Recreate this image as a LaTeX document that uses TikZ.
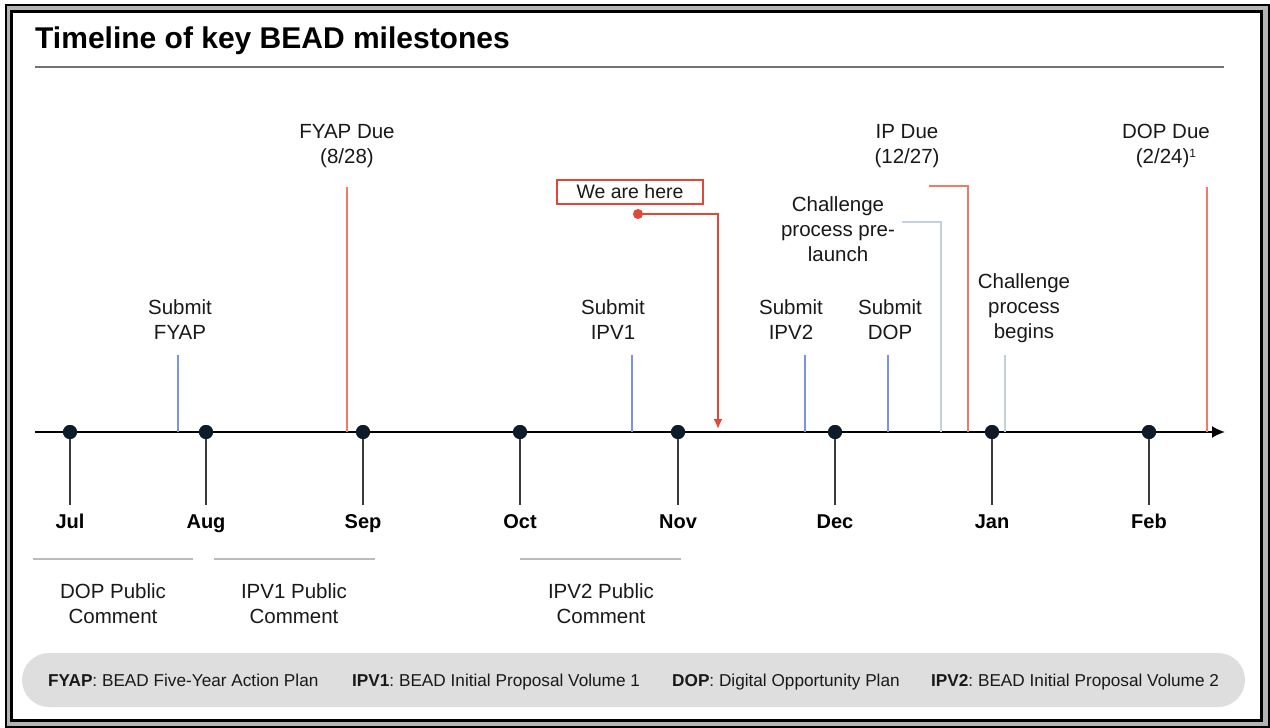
\documentclass[tikz,border=0pt]{standalone}
\usepackage{fontspec}
\setmainfont{Liberation Sans}
\usetikzlibrary{arrows.meta}
\frenchspacing
\definecolor{dueRed}{HTML}{F07A6A}
\definecolor{hereRed}{HTML}{E0483A}
\definecolor{subBlue}{HTML}{7B93E6}
\definecolor{chalGray}{HTML}{C5CFDD}
\definecolor{dotNavy}{HTML}{0E1B29}
\definecolor{tickGray}{HTML}{3A3A3A}
\definecolor{rangeGray}{HTML}{BBBBBB}
\definecolor{legendGray}{HTML}{DEDEDE}
\definecolor{frameGray}{HTML}{B4B4B4}
\tikzset{
  mylbl/.style={align=center, font=\fontsize{20.5}{25}\selectfont, inner sep=0pt, text=black!90},
  mymonth/.style={font=\fontsize{20}{24}\selectfont\bfseries, inner sep=0pt, text=black, anchor=base},
  mydot/.style={circle, fill=dotNavy, minimum size=14pt, inner sep=0pt},
  mytick/.style={draw=tickGray, line width=2.2pt},
  mysub/.style={draw=subBlue, line width=2pt},
  mydue/.style={draw=dueRed, line width=2pt},
  mychal/.style={draw=chalGray, line width=2pt},
  pcline/.style={draw=rangeGray, line width=2pt},
  myleg/.style={font=\fontsize{17.2}{20}\selectfont\frenchspacing, inner sep=0pt, anchor=base west, text=black!90},
}
\begin{document}
\begin{tikzpicture}[x=1pt, y=-1pt]
\useasboundingbox (0,0) rectangle (1270,728);
% frame
\fill[white] (0,0) rectangle (1270,728);
\fill[frameGray] (6,5.3) rectangle (1269,726.5);
\fill[white] (11.5,11.5) rectangle (1261.5,720.5);
\draw[black, line width=2pt] (6,5.3) rectangle (1269,726.5);
\draw[black, line width=2.4pt] (11.5,11.5) rectangle (1261.5,720.5);
% title
\node[anchor=base west, inner sep=0pt, font=\fontsize{30}{36}\selectfont\bfseries] (title) at (35,48) {Timeline of key BEAD milestones};
\coordinate (ruleL) at (35,67);
\coordinate (ruleR) at (1224,67);
\draw[draw=black!55, line width=2pt] (ruleL) -- (ruleR);
% axis
\coordinate (axL) at (35,432);
\coordinate (axR) at (1225,432);
\draw[line width=2pt, -{Latex[length=13pt,width=12pt]}] (axL) -- (axR);
% milestone lines (drawn before dots)
\coordinate (fyapS) at (178,355); \coordinate (fyapB) at (178,432);
\draw[mysub] (fyapS) -- (fyapB);
\node[mylbl] (fyapL) at (180,320) {Submit\\FYAP};
\coordinate (fyapDT) at (347,187); \coordinate (fyapDB) at (347,432);
\draw[mydue] (fyapDT) -- (fyapDB);
\node[mylbl] (fyapDL) at (347,146) {FYAP Due\\(8/28)};
\coordinate (ipv1T) at (632,355); \coordinate (ipv1B) at (632,432);
\draw[mysub] (ipv1T) -- (ipv1B);
\node[mylbl] (ipv1L) at (613,320) {Submit\\IPV1};
\coordinate (ipv2T) at (805,355); \coordinate (ipv2B) at (805,432);
\draw[mysub] (ipv2T) -- (ipv2B);
\node[mylbl] (ipv2L) at (791,320) {Submit\\IPV2};
\coordinate (dopT) at (888,355); \coordinate (dopB) at (888,432);
\draw[mysub] (dopT) -- (dopB);
\node[mylbl] (dopL) at (890,320) {Submit\\DOP};
\coordinate (preS) at (902,222); \coordinate (preC) at (941,222); \coordinate (preB) at (941,432);
\draw[mychal] (preS) -- (preC) -- (preB);
\node[mylbl] (preL) at (838,229) {Challenge\\process pre-\\launch};
\coordinate (ipS) at (929,186); \coordinate (ipC) at (968,186); \coordinate (ipB) at (968,432);
\draw[mydue] (ipS) -- (ipC) -- (ipB);
\node[mylbl] (ipL) at (907,146) {IP Due\\(12/27)};
\coordinate (begT) at (1005,355); \coordinate (begB) at (1005,432);
\draw[mychal] (begT) -- (begB);
\node[mylbl] (begL) at (1024,308) {Challenge\\process\\begins};
\coordinate (dopDT) at (1207,187); \coordinate (dopDB) at (1207,432);
\draw[mydue] (dopDT) -- (dopDB);
\node[mylbl] (dopDL) at (1166,146) {DOP Due\\(2/24)\raisebox{6pt}{\fontsize{12}{13}\selectfont 1}};
% we are here
\node[draw=hereRed, line width=1.6pt, minimum width=146pt, minimum height=24pt, inner sep=0pt, font=\fontsize{19.5}{22}\selectfont, text=black!90] (here) at (630,192) {We are here};
\node[circle, fill=hereRed, minimum size=10pt, inner sep=0pt] (hereDot) at (638,214) {};
\coordinate (hereC) at (718,214);
\coordinate (hereTip) at (718,429);
\draw[draw=hereRed, line width=1.8pt, -{Latex[length=10pt,width=9pt]}] (hereDot.center) -- (hereC) -- (hereTip);
% months
\foreach \n/\x/\m in {jul/70/Jul, aug/206/Aug, sep/363/Sep, oct/520/Oct, nov/678/Nov, dec/835/Dec, jan/992/Jan, feb/1149/Feb}{
  \node[mydot] (\n) at (\x,432) {};
  \coordinate (\n T) at (\x,505);
  \draw[mytick] (\n.center) -- (\n T);
  \node[mymonth] (\n L) at (\x,528) {\m};
}
% re-draw dots on top of ticks
\foreach \n/\x in {jul/70, aug/206, sep/363, oct/520, nov/678, dec/835, jan/992, feb/1149}{
  \fill[dotNavy] (\n) circle (7pt);
}
% public comment ranges
\coordinate (r1a) at (33,559); \coordinate (r1b) at (193,559);
\draw[pcline] (r1a) -- (r1b);
\node[mylbl] (r1L) at (113,604) {DOP Public\\Comment};
\coordinate (r2a) at (214,559); \coordinate (r2b) at (375,559);
\draw[pcline] (r2a) -- (r2b);
\node[mylbl] (r2L) at (294,604) {IPV1 Public\\Comment};
\coordinate (r3a) at (520,559); \coordinate (r3b) at (681,559);
\draw[pcline] (r3a) -- (r3b);
\node[mylbl] (r3L) at (601,604) {IPV2 Public\\Comment};
% legend
\fill[legendGray, rounded corners=27pt] (22,653) rectangle (1245,707);
\node[myleg] (lg1) at (48,686) {\textbf{FYAP}: BEAD Five-Year Action Plan};
\node[myleg] (lg2) at (352,686) {\textbf{IPV1}: BEAD Initial Proposal Volume 1};
\node[myleg] (lg3) at (672,686) {\textbf{DOP}: Digital Opportunity Plan};
\node[myleg] (lg4) at (931,686) {\textbf{IPV2}: BEAD Initial Proposal Volume 2};
\end{tikzpicture}
\end{document}
